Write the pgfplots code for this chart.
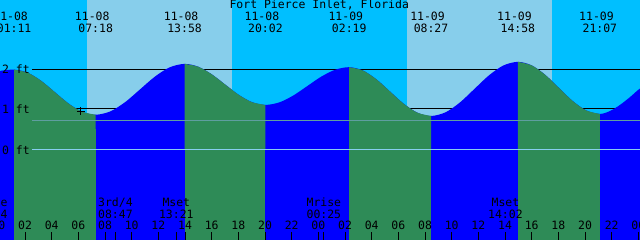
\documentclass[border=0pt]{standalone}
\usepackage{fontspec}
\setmainfont{DejaVu Sans Mono}
\usepackage{pgfplots}
\usepackage{pgfplotstable}
\pgfplotsset{compat=1.18}
\definecolor{night}{RGB}{0,191,255}
\definecolor{day}{RGB}{135,206,235}
\definecolor{rise}{RGB}{0,0,255}
\definecolor{fall}{RGB}{46,139,87}
\definecolor{meanl}{RGB}{95,158,160}
\definecolor{zerol}{RGB}{135,206,240}
\newcommand\tfont{\fontsize{11.5}{13}\selectfont}
\pgfplotstableread{
h ft
-1.2 1.79
0.0 1.92
1.183 1.96
2.203 1.886
3.222 1.685
4.242 1.41
5.261 1.135
6.280 0.934
7.3 0.86
8.411 0.943
9.522 1.17
10.633 1.48
11.745 1.79
12.856 2.017
13.967 2.10
14.978 2.033
15.989 1.85
17.0 1.60
18.011 1.35
19.022 1.167
20.033 1.10
21.080 1.162
22.128 1.33
23.175 1.56
24.222 1.79
25.270 1.958
26.317 2.02
27.339 1.94
28.361 1.7225
29.383 1.425
30.406 1.1275
31.428 0.91
32.45 0.83
33.536 0.918
34.622 1.16
35.708 1.49
36.795 1.82
37.881 2.062
38.967 2.15
39.992 2.065
41.017 1.8325
42.042 1.515
43.067 1.1975
44.092 0.965
45.117 0.88
45.87 0.95
46.625 1.10
47.375 1.29
48.125 1.50
49.2 1.72
}\tide
\begin{document}
\begin{tikzpicture}[lbl/.style={font=\tfont, anchor=base, inner sep=0pt, text=black}]
\begin{axis}[
  at={(-15bp,0bp)}, anchor=south west,
  width=666.667bp, height=240bp, scale only axis,
  xmin=-1, xmax=49, ymin=-2.1951, ymax=3.6585,
  axis on top,
  hide y axis,
  axis x line=bottom,
  x axis line style={draw=none},
  xtick={0,2,...,48},
  xticklabels={00,02,04,06,08,10,12,14,16,18,20,22,00,02,04,06,08,10,12,14,16,18,20,22,00},
  xtick align=inside,
  major tick length=8bp,
  xtick style={black, line width=1bp},
  xticklabel style={anchor=base, yshift=10bp, inner sep=0pt, font=\tfont},
  extra x ticks={24,48},
  extra x tick labels={},
  extra x tick style={tick style={line width=3bp}},
]
% day / night
\addplot[fill=night, draw=none] coordinates {(-2,-3) (-2,4) (50,4) (50,-3)} -- cycle;
\addplot[fill=day, draw=none] coordinates {(6.65,-3) (6.65,4) (17.5,4) (17.5,-3)} -- cycle;
\addplot[fill=day, draw=none] coordinates {(30.65,-3) (30.65,4) (41.5,4) (41.5,-3)} -- cycle;
% reference lines behind the water
\addplot[black, line width=1bp] coordinates {(2.525,1.959) (50,1.959)};
\addplot[black, line width=1bp] coordinates {(2.525,1.0) (50,1.0)};
% tide, rising (blue)
\addplot[fill=rise, draw=none, smooth] table[x=h,y=ft] {\tide} \closedcycle;
\addplot[fill=rise, draw=none] coordinates {(-2,-3) (-2,0.5) (50,0.5) (50,-3)} -- cycle;
% falling (green)
\addplot[fill=fall, draw=none, smooth, restrict x to domain=1.18:7.31] table[x=h,y=ft] {\tide} \closedcycle;
\addplot[fill=fall, draw=none] coordinates {(1.183,-3) (1.183,0.5) (7.3,0.5) (7.3,-3)} -- cycle;
\addplot[fill=fall, draw=none, smooth, restrict x to domain=13.96:20.04] table[x=h,y=ft] {\tide} \closedcycle;
\addplot[fill=fall, draw=none] coordinates {(13.967,-3) (13.967,0.5) (20.033,0.5) (20.033,-3)} -- cycle;
\addplot[fill=fall, draw=none, smooth, restrict x to domain=26.31:32.46] table[x=h,y=ft] {\tide} \closedcycle;
\addplot[fill=fall, draw=none] coordinates {(26.317,-3) (26.317,0.5) (32.45,0.5) (32.45,-3)} -- cycle;
\addplot[fill=fall, draw=none, smooth, restrict x to domain=38.96:45.12] table[x=h,y=ft] {\tide} \closedcycle;
\addplot[fill=fall, draw=none] coordinates {(38.967,-3) (38.967,0.5) (45.117,0.5) (45.117,-3)} -- cycle;
% lines over the water
\addplot[meanl, line width=1bp] coordinates {(2.525,0.724) (50,0.724)};
\addplot[zerol, line width=1bp] coordinates {(2.525,0) (50,0)};
% current point
\addplot[only marks, mark=+, mark size=4bp, black, mark options={line width=1bp}] coordinates {(6.185,0.939)};
% moon event ticks
\addplot[black, line width=1bp] coordinates {(8.783,-2.3) (8.783,-2.0)};
\addplot[black, line width=1bp] coordinates {(13.35,-2.3) (13.35,-2.0)};
\addplot[black, line width=1bp] coordinates {(24.417,-2.3) (24.417,-2.0)};
\addplot[black, line width=1bp] coordinates {(38.033,-2.3) (38.033,-2.0)};
% title
\node[lbl] at (axis cs:24.07,3.439) {Fort Pierce Inlet, Florida};
% tide extremes
\node[lbl] at (axis cs:0.92,3.154) {11-08};  \node[lbl] at (axis cs:1.183,2.854) {01:11};
\node[lbl] at (axis cs:7.04,3.154) {11-08};  \node[lbl] at (axis cs:7.3,2.854) {07:18};
\node[lbl] at (axis cs:13.71,3.154) {11-08}; \node[lbl] at (axis cs:13.967,2.854) {13:58};
\node[lbl] at (axis cs:19.77,3.154) {11-08}; \node[lbl] at (axis cs:20.033,2.854) {20:02};
\node[lbl] at (axis cs:26.06,3.154) {11-09}; \node[lbl] at (axis cs:26.317,2.854) {02:19};
\node[lbl] at (axis cs:32.19,3.154) {11-09}; \node[lbl] at (axis cs:32.45,2.854) {08:27};
\node[lbl] at (axis cs:38.71,3.154) {11-09}; \node[lbl] at (axis cs:38.967,2.854) {14:58};
\node[lbl] at (axis cs:44.86,3.154) {11-09}; \node[lbl] at (axis cs:45.117,2.854) {21:07};
% height labels
\node[lbl, anchor=base west] at (axis cs:0.275,1.871) {2 ft};
\node[lbl, anchor=base west] at (axis cs:0.275,0.895) {1 ft};
\node[lbl, anchor=base west] at (axis cs:0.275,-0.105) {0 ft};
% moon events
\node[lbl] at (axis cs:-0.6,-1.378) {Mrise};   \node[lbl] at (axis cs:-0.6,-1.666) {23:24};
\node[lbl] at (axis cs:8.783,-1.378) {3rd/4};  \node[lbl] at (axis cs:8.783,-1.666) {08:47};
\node[lbl] at (axis cs:13.35,-1.378) {Mset};   \node[lbl] at (axis cs:13.35,-1.666) {13:21};
\node[lbl] at (axis cs:24.417,-1.378) {Mrise}; \node[lbl] at (axis cs:24.417,-1.666) {00:25};
\node[lbl] at (axis cs:38.033,-1.378) {Mset};  \node[lbl] at (axis cs:38.033,-1.666) {14:02};
\end{axis}
\pgfresetboundingbox
\path[use as bounding box] (0,0) rectangle (640bp,240bp);
\end{tikzpicture}
\end{document}
